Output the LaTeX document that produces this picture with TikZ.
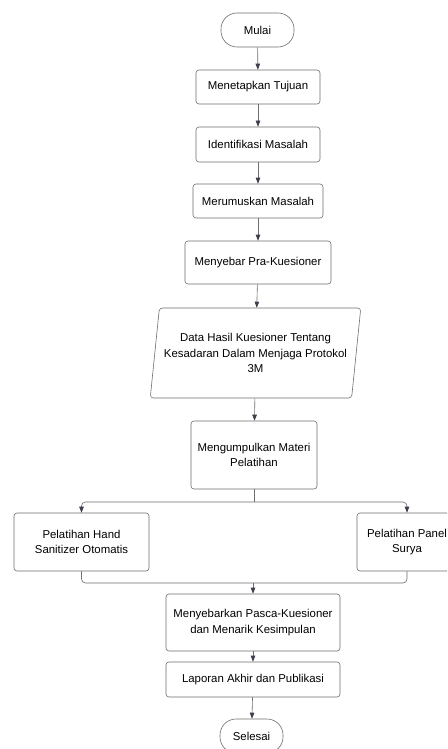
\documentclass[tikz,border=0pt]{standalone}
\usepackage{fontspec}
\setmainfont{Liberation Sans}
\usetikzlibrary{arrows.meta,shapes.geometric}

\definecolor{edgegray}{HTML}{6E6E6E}
\definecolor{tipgray}{HTML}{3A3F4B}

\tikzset{
  box/.style={draw=edgegray, line width=0.6pt, rounded corners=3pt, align=center,
    inner sep=2pt, font=\fontsize{11.4}{15.5}\selectfont},
  terminal/.style={box, rounded corners=16pt, minimum width=#1, minimum height=34pt},
  dataio/.style={draw=edgegray, line width=0.6pt, rounded corners=3pt, align=center,
    trapezium, trapezium left angle=77.5, trapezium right angle=102.5,
    trapezium stretches=true, minimum width=211pt, minimum height=90pt, inner sep=0pt,
    font=\fontsize{11.4}{15.5}\selectfont},
  line/.style={draw=edgegray, line width=0.6pt},
  arr/.style={line, -{Triangle[width=4.5pt,length=6pt,color=tipgray]}}
}

\begin{document}
\begin{tikzpicture}[x=1pt, y=-1pt]
  \fill[white] (0,0) rectangle (447,749);
  \clip (0,0) rectangle (447,749);

  \node[terminal=73pt] (mulai) at (257.5,30) {Mulai};
  \node[box, minimum width=124pt, minimum height=34pt] (tujuan) at (258,87) {Menetapkan Tujuan};
  \node[box, minimum width=124pt, minimum height=35pt] (identifikasi) at (258,144.5) {Identifikasi Masalah};
  \node[box, minimum width=130pt, minimum height=34pt] (rumuskan) at (258,201) {Merumuskan Masalah};
  \node[box, minimum width=146pt, minimum height=43pt] (pra) at (258,262.5) {Menyebar Pra-Kuesioner};
  \node[dataio] (data) at (255.5,353) {Data Hasil Kuesioner Tentang\\Kesadaran Dalam Menjaga Protokol\\3M};
  \node[box, minimum width=126pt, minimum height=68pt] (materi) at (254,455) {Mengumpulkan Materi\\Pelatihan};
  \node[box, minimum width=135pt, minimum height=58pt] (hand) at (81.5,542) {Pelatihan Hand\\Sanitizer Otomatis};
  \node[box, minimum width=100pt, minimum height=58pt] (panel) at (407,542) {Pelatihan Panel\\Surya};
  \node[box, minimum width=174pt, minimum height=57pt] (pasca) at (253,622.5) {Menyebarkan Pasca-Kuesioner\\dan Menarik Kesimpulan};
  \node[box, minimum width=174pt, minimum height=35pt] (laporan) at (253,679.5) {Laporan Akhir dan Publikasi};
  \node[terminal=63pt] (selesai) at (251.5,736) {Selesai};

  \foreach \a/\b in {mulai/tujuan, tujuan/identifikasi, identifikasi/rumuskan,
                     rumuskan/pra, pra/data, data/materi, pasca/laporan, laporan/selesai} {
    \draw[arr] (\a) -- (\b);
  }

  % cabang ke dua pelatihan
  \coordinate (split) at (254,502);
  \draw[line] (materi.south) -- (split);
  \draw[arr, rounded corners=4pt] (split) -| (hand.north);
  \draw[arr, rounded corners=4pt] (split) -| (panel.north);

  % gabung kembali
  \coordinate (join) at (253,583);
  \draw[line, rounded corners=4pt] (hand.south) |- (join);
  \draw[line, rounded corners=4pt] (panel.south) |- (join);
  \draw[arr] (join) -- (pasca.north);
\end{tikzpicture}
\end{document}
